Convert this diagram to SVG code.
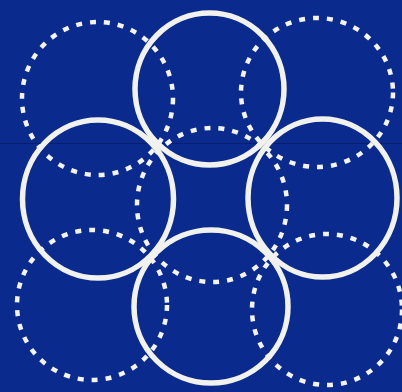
<svg xmlns="http://www.w3.org/2000/svg" width="402" height="392" viewBox="0 0 402 392">
  <style>
    .solid { fill: none; stroke: #f1f1ee; stroke-width: 5.5; }
    .dashed { fill: none; stroke: #f3f3ef; stroke-width: 4.5; stroke-dasharray: 6 8; }
  </style>
  <rect x="0" y="0" width="402" height="392" fill="#0a2a8e"/>
  <line x1="0" y1="143.5" x2="402" y2="143.5" stroke="#071c66" stroke-width="1" opacity="0.8"/>
  <g id="dashed-circles">
    <g id="dashed-top-left"><ellipse class="dashed" cx="97.5" cy="98.5" rx="75.5" ry="76.5"/></g>
    <g id="dashed-top-right"><ellipse class="dashed" cx="317" cy="92.5" rx="76" ry="74.5"/></g>
    <g id="dashed-center"><ellipse class="dashed" cx="212" cy="205" rx="75" ry="77"/></g>
    <g id="dashed-bottom-left"><ellipse class="dashed" cx="92" cy="305" rx="75" ry="75"/></g>
    <g id="dashed-bottom-right"><ellipse class="dashed" cx="327" cy="309.5" rx="75" ry="75.5"/></g>
  </g>
  <g id="solid-circles">
    <g id="solid-top"><ellipse class="solid" cx="209.5" cy="89" rx="74.5" ry="76"/></g>
    <g id="solid-left"><ellipse class="solid" cx="98" cy="199" rx="75.5" ry="79"/></g>
    <g id="solid-right"><ellipse class="solid" cx="322.5" cy="198" rx="74.5" ry="79"/></g>
    <g id="solid-bottom"><ellipse class="solid" cx="211" cy="306.5" rx="77" ry="76.5"/></g>
  </g>
  <g id="connectors"/>
</svg>
